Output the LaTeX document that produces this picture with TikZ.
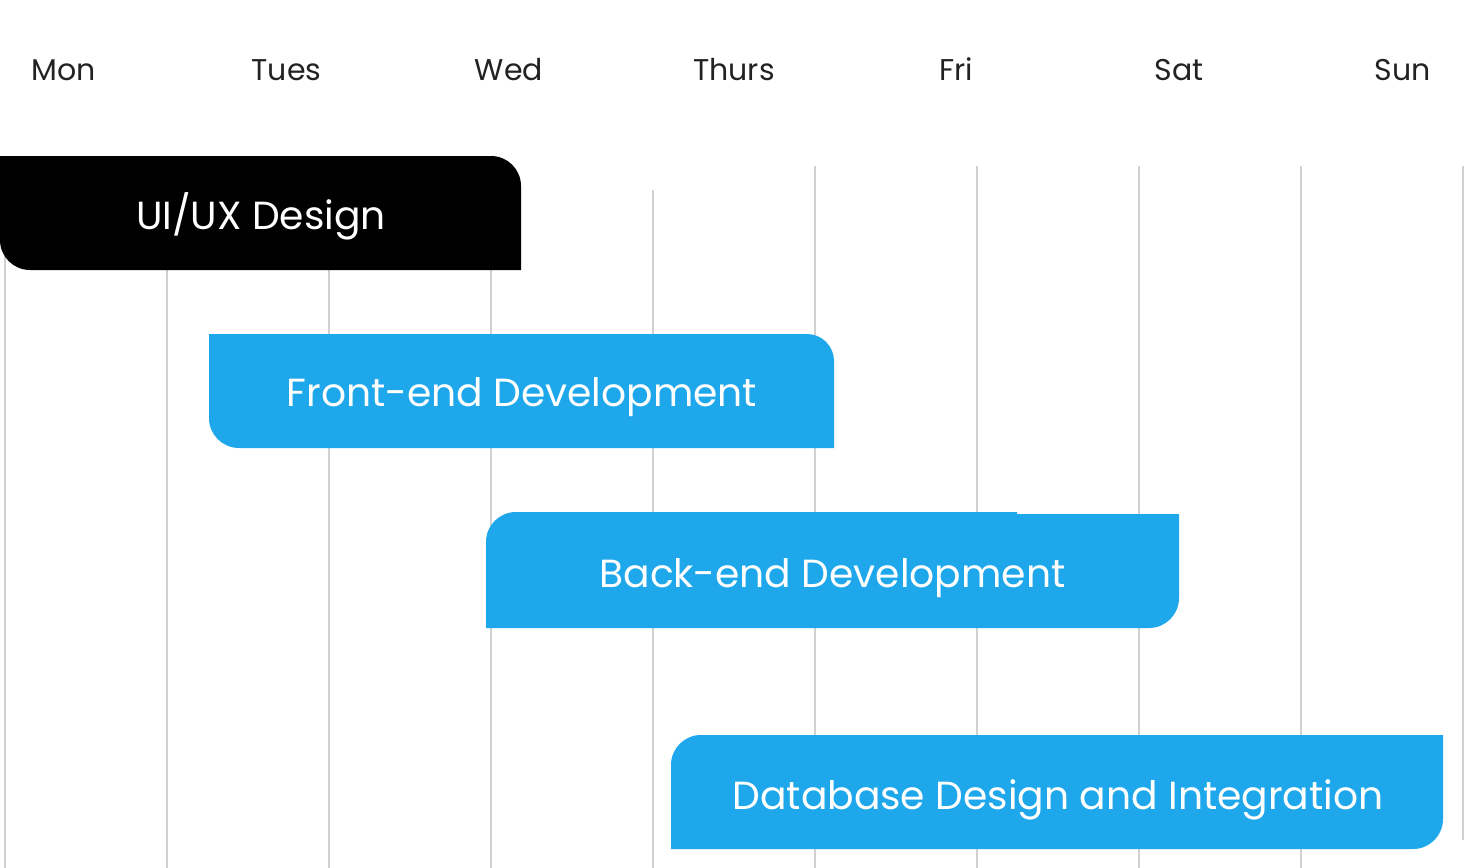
\documentclass[tikz,border=0pt]{standalone}
\usepackage{fontspec}
\setmainfont{Poppins}
\definecolor{barblue}{RGB}{30,168,235}
\definecolor{gridgray}{RGB}{208,208,208}
\definecolor{daytext}{RGB}{34,34,34}
\tikzset{
  gridline/.style={draw=gridgray, line width=1pt},
  daylabel/.style={anchor=base, inner sep=0pt, text=daytext, font=\fontsize{15}{18}\selectfont},
  bartext/.style={anchor=base, inner sep=0pt, text=white, font=\fontsize{19.6}{24}\selectfont},
}
\begin{document}
\begin{tikzpicture}[x=0.5pt, y=-0.5pt]
\useasboundingbox (0,0) rectangle (1464,868);
\fill[white] (0,0) rectangle (1464,868);
% grid lines
\foreach \gx/\gy in {5/166, 167/166, 329/166, 491/166, 653/190, 815/166, 977/166, 1139/166, 1301/166}
  \draw[gridline] (\gx,\gy) -- (\gx,868);
\draw[gridline] (1463,166) -- (1463,840);
% day labels
\node[daylabel] (mon) at (64,80) {Mon};
\node[daylabel] (tue) at (286.5,80) {Tues};
\node[daylabel] (wed) at (509,80) {Wed};
\node[daylabel] (thu) at (734,80) {Thurs};
\node[daylabel] (fri) at (956.5,80) {Fri};
\node[daylabel] (sat) at (1179,80) {Sat};
\node[daylabel] (sun) at (1402.5,80) {Sun};
% UI/UX bar: x 0..521, y 156..270; rounded TR and BL
\fill[black] (0,156) -- (491,156) .. controls (507.6,156) and (521,169.4) .. (521,186)
  -- (521,270) -- (30,270) .. controls (13.4,270) and (0,256.6) .. (0,240) -- cycle;
% Front-end bar: x 209..834, y 334..448; rounded TR and BL
\fill[barblue] (209,334) -- (807,334) .. controls (821.9,334) and (834,346.1) .. (834,361)
  -- (834,448) -- (239,448) .. controls (222.4,448) and (209,434.6) .. (209,418) -- cycle;
% Back-end bar: x 486..1179, y 512..628; rounded TL and BR, small step on top
\fill[barblue] (486,542) .. controls (486,525.4) and (499.4,512) .. (516,512)
  -- (1017,512) -- (1017,514) -- (1179,514) -- (1179,598)
  .. controls (1179,614.6) and (1165.6,628) .. (1149,628) -- (486,628) -- cycle;
% Database bar: x 671..1443, y 735..849; rounded TL and BR
\fill[barblue] (671,765) .. controls (671,748.4) and (684.4,735) .. (701,735)
  -- (1443,735) -- (1443,819) .. controls (1443,835.6) and (1429.6,849) .. (1413,849)
  -- (671,849) -- cycle;
% bar labels
\node[bartext] (uiux) at (261,229) {UI/UX Design};
\node[bartext] (front) at (522,406) {Front-end Development};
\node[bartext] (back) at (832.5,587) {Back-end Development};
\node[bartext] (db) at (1058,809) {Database Design and Integration};
\end{tikzpicture}
\end{document}
